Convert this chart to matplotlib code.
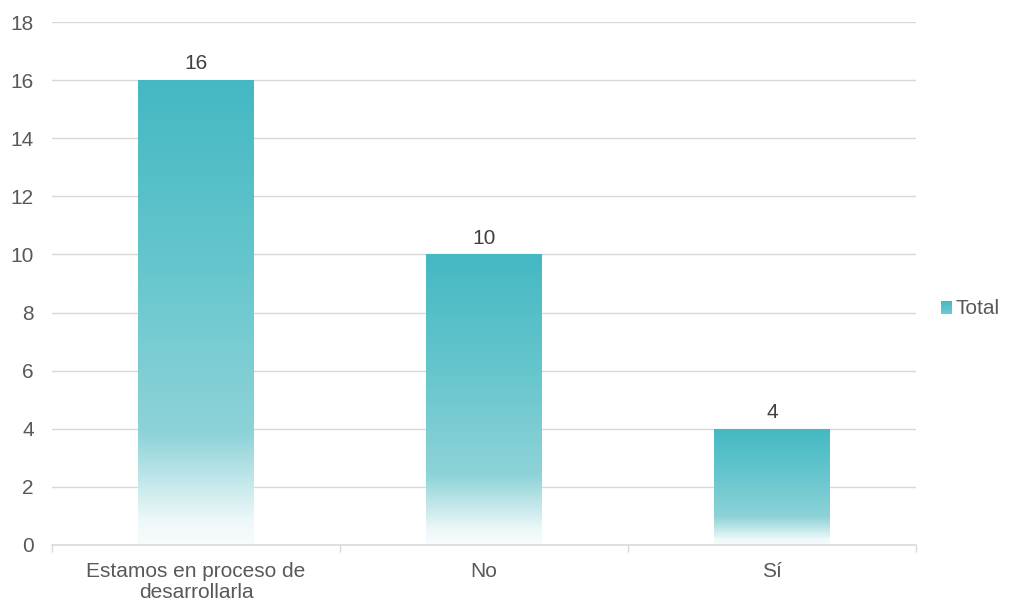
import matplotlib
matplotlib.use("Agg")
import matplotlib.pyplot as plt
import numpy as np
from matplotlib.colors import LinearSegmentedColormap
from matplotlib.patches import Patch

plt.rcParams['font.family'] = ['Liberation Sans', 'DejaVu Sans']

categories = ["Estamos en proceso de\ndesarrollarla", "No", "Sí"]
values = [16, 10, 4]
series_name = "Total"
y_ticks = [0, 2, 4, 6, 8, 10, 12, 14, 16, 18]

text_color = "#595959"
grid_color = "#D9D9D9"
font_size = 15

# vertical fade: strong teal at the top, lighter teal, then a quick fade to white
fade = LinearSegmentedColormap.from_list(
    "fade",
    [(0.0, "#F8FCFD"), (0.05, "#EEF8F9"), (0.24, "#8DD3D8"),
     (0.6, "#66C6CD"), (1.0, "#44B8C3")])

fig = plt.figure(figsize=(10.09, 6.03), dpi=100)
ax = fig.add_axes([52 / 1009, 58 / 603, 864 / 1009, 523 / 603])

x = np.arange(len(categories))
bars = ax.bar(x, values, width=0.4, color="none", edgecolor="none", zorder=3)

grad = np.linspace(0, 1, 256).reshape(-1, 1)
for b in bars:
    x0, y0 = b.get_x(), b.get_y()
    w, h = b.get_width(), b.get_height()
    im = ax.imshow(grad, cmap=fade, origin="lower", aspect="auto",
                   extent=[x0, x0 + w, y0, y0 + h], zorder=3,
                   interpolation="bilinear")
    im.set_clip_path(b)

for xi, v in zip(x, values):
    ax.annotate(str(v), (xi, v), xytext=(0, 5), textcoords="offset points",
                ha="center", va="bottom", fontsize=font_size, color="#404040")

ax.set_xlim(-0.5, len(categories) - 0.5)
ax.set_ylim(0, 18)
ax.set_yticks(y_ticks)
ax.set_yticklabels([str(t) for t in y_ticks])
ax.set_xticks(x)
ax.set_xticklabels(categories, linespacing=1.15)
ax.set_xticks(np.arange(-0.5, len(categories)), minor=True)

ax.tick_params(axis="y", length=0, pad=13, labelsize=font_size,
               labelcolor=text_color)
ax.tick_params(axis="x", which="major", length=0, pad=12, labelsize=font_size,
               labelcolor=text_color)
ax.tick_params(axis="x", which="minor", length=5, width=1, color=grid_color)

ax.grid(axis="y", color=grid_color, linewidth=1, zorder=0)
ax.set_axisbelow(True)
for side in ["top", "right", "left"]:
    ax.spines[side].set_visible(False)
ax.spines["bottom"].set_color(grid_color)
ax.spines["bottom"].set_linewidth(1.2)
ax.spines["bottom"].set_zorder(4)

handle = Patch(facecolor="#66C6CD", edgecolor="none", label=series_name)
leg = fig.legend(handles=[handle], loc="center left",
                 bbox_to_anchor=(941 / 1009, 1 - 309 / 603), frameon=False,
                 fontsize=font_size, labelcolor=text_color, handlelength=0.5,
                 handleheight=0.6, handletextpad=0.2, borderaxespad=0,
                 borderpad=0)

# paint the legend key with the same fade as the bars
fig.canvas.draw()
key = leg.get_patches()[0]
bb = key.get_window_extent().transformed(fig.transFigure.inverted())
key.set_visible(False)
kax = fig.add_axes([bb.x0, bb.y0, bb.width, bb.height])
kax.imshow(grad[128:], cmap=fade, origin="lower", aspect="auto",
           interpolation="bilinear", vmin=0, vmax=1)
kax.axis("off")

fig.savefig("out.png", dpi=100)
